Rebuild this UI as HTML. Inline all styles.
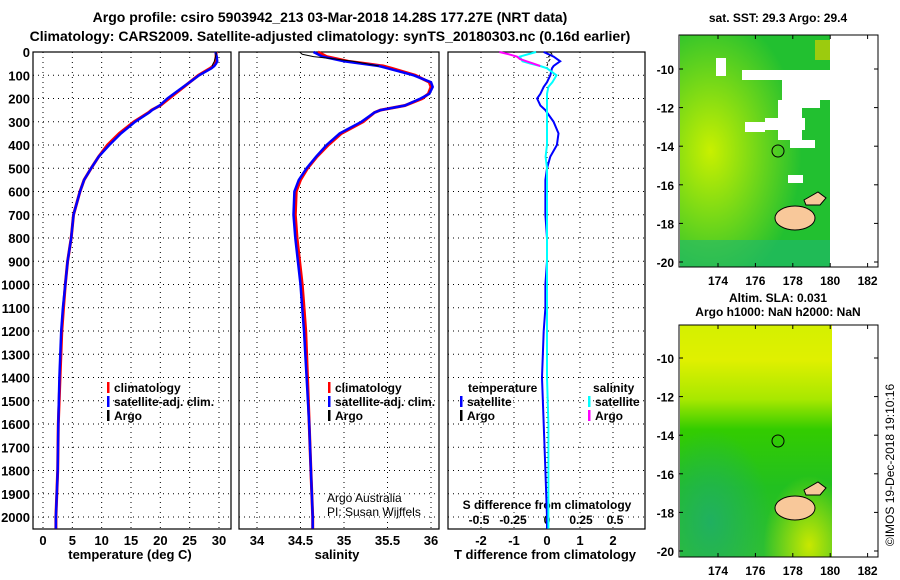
<!DOCTYPE html>
<html><head><meta charset="utf-8"><style>
body{margin:0;background:#fff;}
svg{display:block;font-family:"Liberation Sans",sans-serif;font-weight:bold;}
</style></head><body>
<svg id="fig" width="900" height="580" viewBox="0 0 900 580">
<defs>
<radialGradient id="yl1" cx="0.2" cy="0.5" r="0.6"><stop offset="0" stop-color="#c8f000"/><stop offset="1" stop-color="#c8f000" stop-opacity="0"/></radialGradient>
<linearGradient id="sla" x1="0" y1="0" x2="0" y2="1"><stop offset="0" stop-color="#d4f000"/><stop offset="0.15" stop-color="#e0f000"/><stop offset="0.32" stop-color="#a8e800"/><stop offset="0.45" stop-color="#33cc00"/><stop offset="0.7" stop-color="#22c020"/><stop offset="1" stop-color="#30c030"/></linearGradient>
<radialGradient id="slaTeal" cx="0.2" cy="0.85" r="0.4"><stop offset="0" stop-color="#20b060"/><stop offset="1" stop-color="#20b060" stop-opacity="0"/></radialGradient>
<radialGradient id="slaYel" cx="0.85" cy="0.95" r="0.3"><stop offset="0" stop-color="#c8e800"/><stop offset="1" stop-color="#c8e800" stop-opacity="0"/></radialGradient>
</defs>
<text x="330" y="22" text-anchor="middle" font-size="14">Argo profile: csiro 5903942_213 03-Mar-2018 14.28S 177.27E (NRT data)</text>
<text x="330" y="41" text-anchor="middle" font-size="14">Climatology: CARS2009. Satellite-adjusted climatology: synTS_20180303.nc (0.16d earlier)</text>
<g id="p1"></g>
<g id="p2"></g>
<g id="p3"></g>

<g>
<text x="778" y="22" text-anchor="middle" font-size="12">sat. SST: 29.3 Argo: 29.4</text>
<rect x="680" y="35" width="152" height="232" fill="#22c030"/>
<rect x="680" y="35" width="152" height="232" fill="url(#yl1)"/>
<rect x="680" y="240" width="152" height="27" fill="#20b870" opacity="0.6"/>
<rect x="815" y="40" width="17" height="20" fill="#d0d000" opacity="0.7"/>
<rect x="742" y="70" width="90" height="10" fill="#fff"/>
<rect x="782" y="80" width="50" height="20" fill="#fff"/>
<rect x="778" y="100" width="24" height="40" fill="#fff"/>
<rect x="800" y="100" width="20" height="8" fill="#fff"/>
<rect x="765" y="118" width="40" height="12" fill="#fff"/>
<rect x="790" y="140" width="25" height="8" fill="#fff"/>
<rect x="745" y="122" width="20" height="10" fill="#fff"/>
<rect x="716" y="58" width="10" height="18" fill="#fff"/>
<rect x="788" y="175" width="15" height="8" fill="#fff"/>
<rect x="830" y="35" width="48" height="232" fill="#fff"/>
<ellipse cx="795" cy="218" rx="20" ry="12" fill="#f8c89a" stroke="#000"/>
<path d="M804,200 L818,192 L826,198 L820,205 L806,205 Z" fill="#f8c89a" stroke="#000"/>
<circle cx="778" cy="151" r="6" fill="none" stroke="#000"/>
<rect x="679" y="35" width="199" height="232" fill="none" stroke="#000"/>
</g>
<g>
<text x="778" y="302" text-anchor="middle" font-size="12">Altim. SLA: 0.031</text>
<text x="778" y="316" text-anchor="middle" font-size="12">Argo h1000: NaN h2000: NaN</text>
<rect x="680" y="325" width="152" height="232" fill="url(#sla)"/>
<rect x="680" y="325" width="152" height="232" fill="url(#slaTeal)"/>
<rect x="680" y="325" width="152" height="232" fill="url(#slaYel)"/>
<ellipse cx="795" cy="508" rx="20" ry="12" fill="#f8c89a" stroke="#000"/>
<path d="M804,490 L818,482 L826,488 L820,495 L806,495 Z" fill="#f8c89a" stroke="#000"/>
<circle cx="778" cy="441" r="6" fill="none" stroke="#000"/>
<rect x="679" y="325" width="199" height="232" fill="none" stroke="#000"/>
</g>
<text transform="translate(894,465) rotate(-90)" text-anchor="middle" font-size="12" font-weight="normal">©IMOS 19-Dec-2018 19:10:16</text>
</svg>
<script>
const depths=[0,20,40,50,60,70,100,130,150,180,200,230,250,260,300,350,400,450,500,550,600,700,800,900,1000,1100,1200,1400,1600,1800,2000,2050];
const tempClim=[29.5,29.5,29.4,29.3,29.0,28.5,26.5,25,24,22.5,21.5,20,18.5,18,15.5,13,11,9.5,8.2,7,6.3,5.2,4.8,4.2,3.8,3.5,3.2,2.9,2.6,2.5,2.2,2.2];
const tempSat=[29.4,29.6,29.7,29.5,29.2,28.7,26.6,25,23.9,22.3,21.2,19.9,18.6,18.1,15.7,13.3,11.3,9.5,8.2,7,6.3,5.2,4.8,4.2,3.8,3.4,3.1,2.8,2.6,2.5,2.2,2.2];
const salClim=[34.7,34.8,35.05,35.25,35.45,35.55,35.82,35.98,36.0,35.97,35.9,35.7,35.42,35.35,35.22,34.97,34.82,34.69,34.58,34.5,34.45,34.44,34.46,34.49,34.52,34.54,34.56,34.58,34.6,34.62,34.64,34.64];
const salSat=[34.65,34.75,35.0,35.2,35.4,35.5,35.8,36.0,36.02,35.98,35.88,35.7,35.42,35.35,35.2,34.95,34.8,34.68,34.57,34.48,34.43,34.42,34.44,34.47,34.5,34.52,34.54,34.57,34.6,34.62,34.64,34.64];
const argoDepths=[0,10,20,30,40,50,60];
const argoTemp=[29.5,29.5,29.4,29.3,29.2,29.0,28.8];
const argoSal=[34.49,34.52,34.65,34.9,35.1,35.25,35.4];
const tDiffSat=[-0.1,0.2,0.4,0.3,0.2,0.15,0.1,0,-0.1,-0.2,-0.3,-0.2,-0.05,0,0.2,0.35,0.3,0.1,0,-0.05,-0.05,-0.05,0,0,-0.05,-0.05,-0.1,-0.15,-0.1,-0.05,0,0];
const sDiffSat=[-0.08,-0.2,-0.18,-0.12,-0.05,0,0.07,0.04,0.01,0,0,0,0,0,0,0,0,-0.01,0,0,0,0,0,0,0,0,0,0,0.01,0.01,0.01,0.01];
const argoTDiff=[0.1,0.15,0.05,0.1,0.05,0.02,0];
const argoSDiff=[-0.35,-0.28,-0.22,-0.2,-0.15,-0.1,-0.05];
const depthTicks=[0,100,200,300,400,500,600,700,800,900,1000,1100,1200,1300,1400,1500,1600,1700,1800,1900,2000];
const tempTicks=[0,5,10,15,20,25,30];
const salTicks=[34,34.5,35,35.5,36];
const salTickLabels=["34","34.5","35","35.5","36"];
const tdTicks=[-2,-1,0,1,2];
const sdTicks=[-0.5,-0.25,0,0.25,0.5];
const sdTickLabels=["-0.5","-0.25","0","0.25","0.5"];

const NS="http://www.w3.org/2000/svg";
const TOP=52,BOT=529;
function yD(d){return TOP+d*(517-TOP)/2000;}
function mk(parent,tag,attrs,txt){const e=document.createElementNS(NS,tag);for(const k in attrs)e.setAttribute(k,attrs[k]);if(txt!==undefined)e.textContent=txt;parent.appendChild(e);return e;}
function xT(v){return 43+v*(219-43)/30;}
function xS(v){return 257+(v-34)*(431-257)/2;}
function xTD(v){return 547+v*33;}
function xSD(v){return 547+v*136;}
function line(g,xs,ds,fx,color,w,name,dash){
  let d="";xs.forEach((v,i)=>{d+=(i?"L":"M")+fx(v).toFixed(1)+","+yD(ds[i]).toFixed(1);});
  const p=mk(g,"path",{d:d,fill:"none",stroke:color,"stroke-width":w});
  if(dash)p.setAttribute("stroke-dasharray",dash);
  
  
}
function frame(g,x0,x1,xt,fx,labels,showY){
  depthTicks.forEach(d=>{const l=mk(g,"line",{x1:x0,x2:x1,y1:yD(d),y2:yD(d),stroke:"#000","stroke-dasharray":"1,4"});
    
    if(showY){const t=mk(g,"text",{x:x0-3,y:yD(d)+5,"text-anchor":"end","font-size":"13"},String(d));
      }});
  xt.forEach((v,i)=>{const x=fx(v);mk(g,"line",{x1:x,x2:x,y1:TOP,y2:BOT,stroke:"#000","stroke-dasharray":"1,4"});
    const t=mk(g,"text",{x:x,y:BOT+16,"text-anchor":"middle","font-size":"13"},labels[i]);
    });
  const r=mk(g,"rect",{x:x0,y:TOP,width:x1-x0,height:BOT-TOP,fill:"none",stroke:"#000","stroke-width":1.2});
  
}
function legend(g,x,y,items){items.forEach((it,i)=>{mk(g,"rect",{x:x,y:y+i*14-10,width:2.5,height:11,fill:it[1]});
  const t=mk(g,"text",{x:x+7,y:y+i*14,"font-size":"12"},it[0]);
  });}

const p1=document.getElementById("p1");
frame(p1,33,231,tempTicks,xT,tempTicks.map(String),true);
line(p1,tempClim,depths,xT,"#f00",3,"temp-climatology-line");
line(p1,tempSat,depths,xT,"#00f",2.5,"temp-satellite-line");
line(p1,argoTemp,argoDepths,xT,"#000",1,"temp-argo-line");
mk(p1,"text",{x:130,y:559,"text-anchor":"middle","font-size":"13"},"temperature (deg C)");
legend(p1,107,392,[["climatology","#f00"],["satellite-adj. clim.","#00f"],["Argo","#000"]]);

const p2=document.getElementById("p2");
frame(p2,239,439,salTicks,xS,salTickLabels,false);
line(p2,salClim,depths,xS,"#f00",3,"salinity-climatology-line");
line(p2,salSat,depths,xS,"#00f",2.5,"salinity-satellite-line");
line(p2,argoSal,argoDepths,xS,"#000",1,"salinity-argo-line");
mk(p2,"text",{x:337,y:559,"text-anchor":"middle","font-size":"13"},"salinity");
legend(p2,328,392,[["climatology","#f00"],["satellite-adj. clim.","#00f"],["Argo","#000"]]);
mk(p2,"text",{x:327,y:502,"font-size":"12","font-weight":"normal"},"Argo Australia");
mk(p2,"text",{x:327,y:516,"font-size":"12","font-weight":"normal"},"PI: Susan Wijffels");

const p3=document.getElementById("p3");
frame(p3,448,645,tdTicks,xTD,tdTicks.map(String),false);
sdTicks.forEach((v,i)=>{const t=mk(p3,"text",{x:xSD(v),y:524,"text-anchor":"middle","font-size":"12"},sdTickLabels[i]);
  });
mk(p3,"text",{x:547,y:509,"text-anchor":"middle","font-size":"12"},"S difference from climatology");
mk(p3,"text",{x:545,y:559,"text-anchor":"middle","font-size":"13"},"T difference from climatology");
line(p3,tDiffSat,depths,xTD,"#00f",2,"t-diff-satellite-line");
line(p3,sDiffSat,depths,xSD,"#0ff",2,"s-diff-satellite-line");
line(p3,argoTDiff,argoDepths,xTD,"#000",1,"t-diff-argo-line","3,2");
line(p3,argoSDiff,argoDepths,xSD,"#f0f",2,"s-diff-argo-line");
mk(p3,"text",{x:468,y:392,"font-size":"12"},"temperature");
legend(p3,460,406,[["satellite","#00f"],["Argo","#000"]]);
mk(p3,"text",{x:593,y:392,"font-size":"12"},"salinity");
legend(p3,588,406,[["satellite","#0ff"],["Argo","#f0f"]]);

function mapAxes(y0,y1,latTop){
  const g=mk(document.getElementById("fig"),"g",{});
  
  [174,176,178,180,182].forEach(lon=>{const x=718+(lon-174)*18.7;
    mk(g,"line",{x1:x,x2:x,y1:y1,y2:y1-4,stroke:"#000"});mk(g,"line",{x1:x,x2:x,y1:y0,y2:y0+4,stroke:"#000"});
    mk(g,"text",{x:x,y:y1+18,"text-anchor":"middle","font-size":"12"},String(lon));});
  [-10,-12,-14,-16,-18,-20].forEach(lat=>{const y=latTop+(-10-lat)*19.3;
    mk(g,"line",{x1:679,x2:683,y1:y,y2:y,stroke:"#000"});mk(g,"line",{x1:874,x2:878,y1:y,y2:y,stroke:"#000"});
    mk(g,"text",{x:674,y:y+5,"text-anchor":"end","font-size":"12"},String(lat));});
}
mapAxes(35,267,69);
mapAxes(325,557,358);
</script>
</body></html>
